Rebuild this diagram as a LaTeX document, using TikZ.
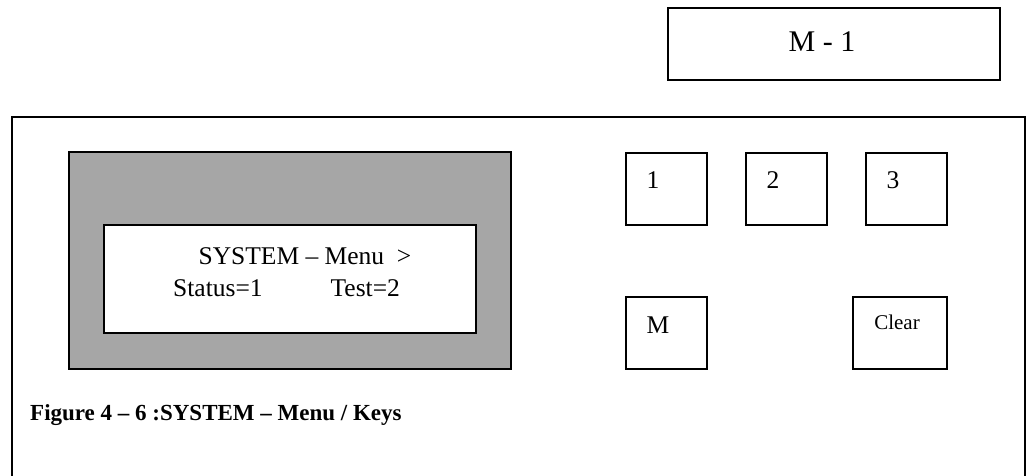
\documentclass[tikz,border=0pt]{standalone}
\usepackage{fontspec}
\setmainfont{Liberation Serif}
\usetikzlibrary{positioning}

\begin{document}
\begin{tikzpicture}[x=1pt,y=-1pt]
 % style des noeuds
  \tikzstyle{cadre}=[rectangle,draw,line width=1.4pt,inner sep=0pt]
  \tikzstyle{ecran}=[cadre,fill=black!35,minimum width=442pt,minimum height=217pt]
  \tikzstyle{fenetre}=[cadre,fill=white,minimum width=372pt,minimum height=108pt]
  \tikzstyle{touche}=[cadre,minimum width=81pt,minimum height=72pt]
  \tikzstyle{texte}=[inner sep=0pt,font=\fontsize{25.5}{30}\selectfont]
  \tikzstyle{petit}=[inner sep=0pt,font=\fontsize{21}{25}\selectfont]
  \tikzstyle{legende}=[inner sep=0pt,font=\fontsize{23}{28}\selectfont\bfseries]
  \useasboundingbox (0,0) rectangle (1029,475);
 % cadre exterieur
  \draw[line width=1.4pt] (12,490) -- (12,117) -- (1025,117) -- (1025,490);
 % placement des noeuds
  \node[cadre,minimum width=332pt,minimum height=72pt] (mode) at (834,44) {};
  \node[texte,font=\fontsize{30}{34}\selectfont] (modetxt) at (822,42) {M - 1};
  \node[ecran] (ecran) at (290,260.5) {};
  \node[fenetre] (fenetre) at (290,279) {};
  \node[texte] (ligne1) at (305,256) {SYSTEM -- Menu\ \ >};
  \node[texte,anchor=west] (ligne2) at (173,288) {Status=1\hspace{68pt}Test=2};
  \node[touche] (t1) at (666.5,189) {};
  \node[touche] (t2) at (786.5,189) {};
  \node[touche] (t3) at (906.5,189) {};
  \node[touche] (tm) at (666.5,333) {};
  \node[touche,minimum width=94pt] (tc) at (900,333) {};
  \node[texte] (l1) at (653,180) {1};
  \node[texte] (l2) at (773,180) {2};
  \node[texte] (l3) at (893,180) {3};
  \node[texte] (lm) at (658,325) {M};
  \node[petit] (lc) at (897,322) {Clear};
  \node[legende,anchor=west] (fig) at (30,415) {Figure 4 -- 6 :SYSTEM -- Menu / Keys};
\end{tikzpicture}
\end{document}
